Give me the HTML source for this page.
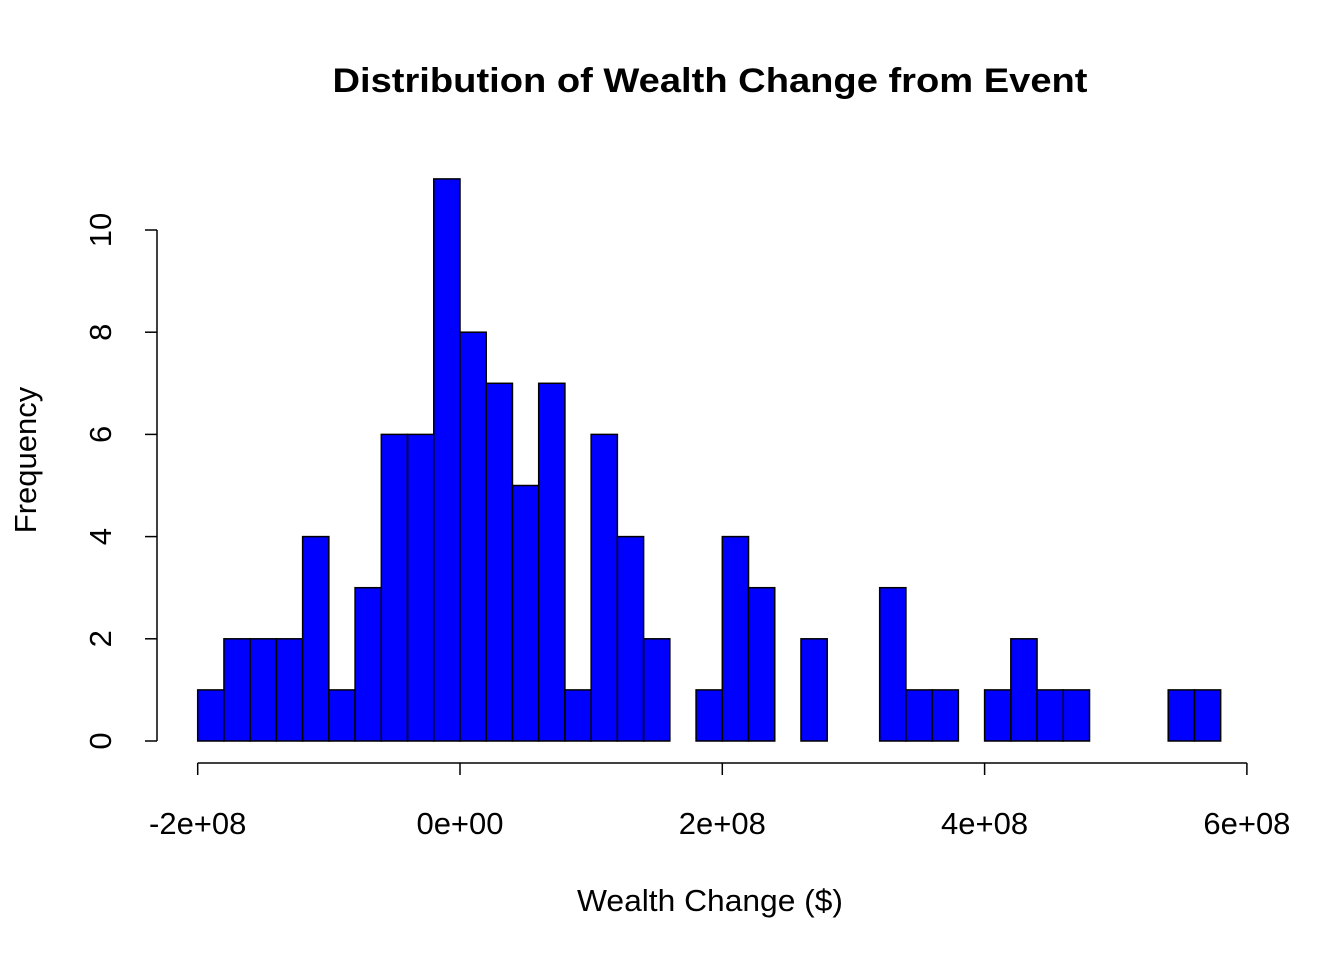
<!DOCTYPE html>
<html><head><meta charset="utf-8"><style>
html,body{margin:0;padding:0;background:#fff}
svg text{font-family:"Liberation Sans",Arial,sans-serif;fill:#000}
</style></head><body>
<svg id="chart" width="1344" height="960" viewBox="0 0 1344 960" xmlns="http://www.w3.org/2000/svg">
<rect width="1344" height="960" fill="#fff"/>
<text x="710" y="92" text-anchor="middle" font-size="34" font-weight="bold" textLength="755" lengthAdjust="spacingAndGlyphs">Distribution of Wealth Change from Event</text>
<text x="710" y="911" text-anchor="middle" font-size="31" textLength="266" lengthAdjust="spacingAndGlyphs">Wealth Change ($)</text>
<text transform="translate(36,460) rotate(-90)" text-anchor="middle" font-size="31">Frequency</text>
<g id="bars"></g>
<g id="xaxis"></g>
<g id="yaxis"></g>
</svg>
<script>
const binStart = -2e8;
const binWidth = 2e7;
const counts = [1,2,2,2,4,1,3,6,6,11,8,7,5,7,1,6,4,2,0,1,4,3,0,2,0,0,3,1,1,0,1,2,1,1,0,0,0,1,1];
const xTicks = [-2e8,0,2e8,4e8,6e8];
const xTickLabels = ["-2e+08","0e+00","2e+08","4e+08","6e+08"];
const yTicks = [0,2,4,6,8,10];

const NS="http://www.w3.org/2000/svg";
function xs(v){return 460 + v/2e8*262.3;}
function ys(v){return 741 - v*51.1;}
function mk(tag,attrs,parent){const e=document.createElementNS(NS,tag);for(const k in attrs)e.setAttribute(k,attrs[k]);parent.appendChild(e);return e;}

const bars=document.getElementById('bars');
counts.forEach((c,i)=>{
  const x0=xs(binStart+i*binWidth), x1=xs(binStart+(i+1)*binWidth);
  const r=mk('rect',{x:x0,y:ys(c),width:x1-x0,height:ys(0)-ys(c),fill:'#0000ff',stroke:'#000','stroke-width':1.5},bars);
  
  
});

const xa=document.getElementById('xaxis');
mk('line',{x1:xs(xTicks[0]),x2:xs(xTicks[xTicks.length-1]),y1:763,y2:763,stroke:'#000','stroke-width':1.5},xa);
xTicks.forEach((t,i)=>{
  mk('line',{x1:xs(t),x2:xs(t),y1:763,y2:775,stroke:'#000','stroke-width':1.5},xa);
  const tx=mk('text',{x:xs(t),y:834,'text-anchor':'middle','font-size':31},xa);
  tx.textContent=xTickLabels[i];
  
  
});

const ya=document.getElementById('yaxis');
mk('line',{x1:157,x2:157,y1:ys(yTicks[0]),y2:ys(yTicks[yTicks.length-1]),stroke:'#000','stroke-width':1.5},ya);
yTicks.forEach(t=>{
  mk('line',{x1:145,x2:157,y1:ys(t),y2:ys(t),stroke:'#000','stroke-width':1.5},ya);
  const tx=mk('text',{transform:`translate(111,${ys(t)}) rotate(-90)`,'text-anchor':'middle','font-size':31},ya);
  tx.textContent=String(t);
  
  
});
</script>
</body></html>
